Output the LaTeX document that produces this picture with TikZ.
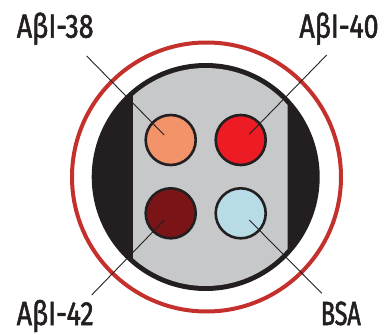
\documentclass[tikz,border=0pt]{standalone}
\usepackage{fontspec}
\setmainfont[FakeStretch=0.8, FakeBold=1.6]{Fira Sans}
\newfontfamily\narrowtag[FakeStretch=0.7, FakeBold=1.6]{Fira Sans}
\definecolor{inkdark}{HTML}{231F20}
\definecolor{ringred}{HTML}{C4312C}
\definecolor{panelgray}{HTML}{C7C8CA}
\definecolor{spotorange}{HTML}{F39369}
\definecolor{spotred}{HTML}{ED1C24}
\definecolor{spotmaroon}{HTML}{7A1416}
\definecolor{spotblue}{HTML}{B8DCE5}
\tikzset{
  spot/.style={circle, draw=inkdark, line width=2.6pt, minimum size=50pt, inner sep=0pt},
  tag/.style={text=inkdark, font=\fontsize{33.5}{34}\selectfont, inner sep=0pt, anchor=base},
  leader/.style={draw=inkdark, line width=0.9pt}
}
\begin{document}
\begin{tikzpicture}[x=1pt, y=-1pt]
  \useasboundingbox (0,0) rectangle (384,335);
  % outer red ring
  \draw[ringred, line width=4pt] (206.5,177) circle (134.5);
  % black disk with grey central band
  \fill[inkdark] (205.7,177) circle (114);
  \begin{scope}
    \clip (133,0) rectangle (287.5,335);
    \fill[panelgray] (205.7,177) circle (109);
  \end{scope}
  % sample spots
  \node[spot, fill=spotorange] (s38) at (170.7,140) {};
  \node[spot, fill=spotred]    (s40) at (240.7,140) {};
  \node[spot, fill=spotmaroon] (s42) at (170.7,213.3) {};
  \node[spot, fill=spotblue]   (sbsa) at (240.7,213.3) {};
  % labels
  \node[tag] (t38) at (55.2,37.7) {AβI-38};
  \node[tag] (t40) at (339,37.7) {AβI-40};
  \node[tag] (t42) at (55.2,325) {AβI-42};
  \node[tag] (tbsa) at (340.8,325) {\narrowtag BSA};
  % leader lines
  \coordinate (e38) at (86.7,56);
  \coordinate (e40) at (326.7,55);
  \coordinate (e42) at (91.7,295);
  \coordinate (ebsa) at (321.7,293.3);
  \draw[leader] (e38) -- ([shift={(-6.5,-5)}]s38.center);
  \draw[leader] (e40) -- ([shift={(8.6,-5.7)}]s40.center);
  \draw[leader] (e42) -- ([shift={(-6.4,6.7)}]s42.center);
  \draw[leader] (ebsa) -- ([shift={(8.6,6.7)}]sbsa.center);
\end{tikzpicture}
\end{document}
